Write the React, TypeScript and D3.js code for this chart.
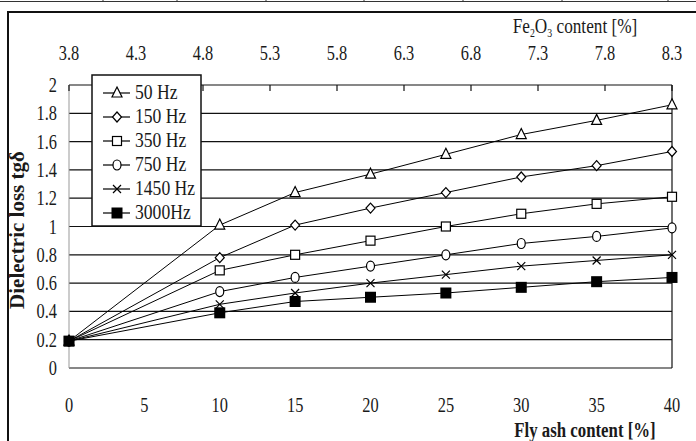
import * as d3 from 'd3';

const flyAsh = [0, 10, 15, 20, 25, 30, 35, 40];
const series = [
  { name: '50 Hz', marker: 'triangle', values: [0.19, 1.01, 1.24, 1.37, 1.51, 1.65, 1.75, 1.86] },
  { name: '150 Hz', marker: 'diamond', values: [0.19, 0.78, 1.01, 1.13, 1.24, 1.35, 1.43, 1.53] },
  { name: '350 Hz', marker: 'square', values: [0.19, 0.69, 0.8, 0.9, 1.0, 1.09, 1.16, 1.21] },
  { name: '750 Hz', marker: 'circle', values: [0.19, 0.54, 0.64, 0.72, 0.8, 0.88, 0.93, 0.99] },
  { name: '1450 Hz', marker: 'cross', values: [0.19, 0.45, 0.53, 0.6, 0.66, 0.72, 0.76, 0.8] },
  { name: '3000Hz', marker: 'filled', values: [0.19, 0.39, 0.47, 0.5, 0.53, 0.57, 0.61, 0.64] },
];
const bottomTicks = [0, 5, 10, 15, 20, 25, 30, 35, 40];
const topTicks = [3.8, 4.3, 4.8, 5.3, 5.8, 6.3, 6.8, 7.3, 7.8, 8.3];
const yTicks = [0, 0.2, 0.4, 0.6, 0.8, 1, 1.2, 1.4, 1.6, 1.8, 2];

const font = '"Liberation Serif", "Times New Roman", serif';

function Marker({ type, x, y }: { type: string; x: number; y: number }) {
  const s = 'black';
  switch (type) {
    case 'triangle':
      return <path d={`M${x},${y - 6}L${x + 5},${y + 4}L${x - 5},${y + 4}Z`} fill="white" stroke={s} strokeWidth={1.2} />;
    case 'diamond':
      return <path d={`M${x},${y - 5}L${x + 4.5},${y}L${x},${y + 5}L${x - 4.5},${y}Z`} fill="white" stroke={s} strokeWidth={1.2} />;
    case 'square':
      return <rect x={x - 4.5} y={y - 4.5} width={9} height={9} fill="white" stroke={s} strokeWidth={1.2} />;
    case 'circle':
      return <ellipse cx={x} cy={y} rx={4} ry={5} fill="white" stroke={s} strokeWidth={1.2} />;
    case 'cross':
      return <path d={`M${x - 4},${y - 4}L${x + 4},${y + 4}M${x + 4},${y - 4}L${x - 4},${y + 4}`} stroke={s} strokeWidth={1.2} />;
    default:
      return <rect x={x - 5.5} y={y - 5.5} width={11} height={11} fill="black" />;
  }
}

function CText({ x, y, anchor, size, weight, sx, children }: any) {
  return (
    <text
      transform={`translate(${x},${y}) scale(${sx || 0.8},1)`}
      textAnchor={anchor}
      fontFamily={font}
      fontSize={size}
      fontWeight={weight || 'normal'}
      fill="#1a1a1a"
    >
      {children}
    </text>
  );
}

export default function App() {
  const width = 696;
  const height = 441;
  const left = 69;
  const right = 672;
  const top = 85;
  const bottom = 368;

  const x = d3.scaleLinear().domain([0, 40]).range([left, right]);
  const xTop = d3.scaleLinear().domain([3.8, 8.3]).range([left, right]);
  const y = d3.scaleLinear().domain([0, 2]).range([bottom, top]);
  const line = d3
    .line<number>()
    .x((_, i) => x(flyAsh[i]))
    .y((d) => y(d));

  return (
    <svg width={width} height={height} style={{ position: 'absolute', left: 0, top: 0, background: 'white' }}>
      {/* table remnant at the top */}
      <line x1={0} x2={width} y1={1.5} y2={1.5} stroke="#333" strokeWidth={1} />
      {[103, 177, 266, 364, 463, 562, 668].map((px) => (
        <line key={px} x1={px} x2={px} y1={0} y2={2} stroke="#333" />
      ))}
      {/* outer frame */}
      <rect x={8} y={12} width={width} height={height} fill="none" stroke="#111" strokeWidth={2} />

      {/* grid */}
      {yTicks.map((t) => (
        <line key={t} x1={left} x2={right} y1={y(t)} y2={y(t)} stroke="#111" strokeWidth={1.2} />
      ))}
      <line x1={left} x2={left} y1={top} y2={bottom} stroke="#999" strokeWidth={1} />
      <line x1={right} x2={right} y1={top} y2={bottom} stroke="#111" strokeWidth={1.2} />
      {topTicks.map((t) => (
        <line key={t} x1={xTop(t)} x2={xTop(t)} y1={top} y2={top + 6} stroke="#111" strokeWidth={1.2} />
      ))}

      {/* y tick labels */}
      {yTicks.map((t) => (
        <CText key={t} x={57} y={y(t) + 7} anchor="end" size={21} sx={0.78}>
          {d3.format('~g')(t)}
        </CText>
      ))}
      {/* bottom tick labels */}
      {bottomTicks.map((t) => (
        <CText key={t} x={x(t)} y={412} anchor="middle" size={21} sx={0.78}>
          {t}
        </CText>
      ))}
      {/* top tick labels */}
      {topTicks.map((t) => (
        <CText key={t} x={xTop(t)} y={60} anchor="middle" size={21} sx={0.78}>
          {t.toFixed(1)}
        </CText>
      ))}

      {/* axis titles */}
      <CText x={575} y={33} anchor="middle" size={21} sx={0.82}>
        Fe<tspan fontSize={12} dy={4}>2</tspan>
        <tspan dy={-4}>O</tspan>
        <tspan fontSize={12} dy={4}>3</tspan>
        <tspan dy={-4}>{'  content [%]'}</tspan>
      </CText>
      <CText x={585} y={437} anchor="middle" size={21} weight="bold" sx={0.8}>
        Fly ash content [%]
      </CText>
      <text
        transform={`translate(24,230) rotate(-90)`}
        textAnchor="middle"
        fontFamily={font}
        fontSize={21}
        fontWeight="bold"
        fill="#1a1a1a"
      >
        Dielectric loss tgδ
      </text>

      {/* series */}
      {series.map((s) => (
        <g key={s.name}>
          <path d={line(s.values) || ''} fill="none" stroke="black" strokeWidth={1} />
          {s.values.map((v, i) => (
            <Marker key={i} type={s.marker} x={x(flyAsh[i])} y={y(v)} />
          ))}
        </g>
      ))}

      {/* legend */}
      <rect x={92} y={75} width={109} height={151} fill="white" stroke="#111" strokeWidth={1.5} />
      {series.map((s, i) => {
        const ry = 93 + i * 24;
        return (
          <g key={s.name}>
            <line x1={103} x2={130} y1={ry} y2={ry} stroke="black" strokeWidth={1.2} />
            <Marker type={s.marker} x={117} y={ry} />
            <CText x={135} y={ry + 6} anchor="start" size={20} sx={0.88}>
              {s.name}
            </CText>
          </g>
        );
      })}
    </svg>
  );
}
